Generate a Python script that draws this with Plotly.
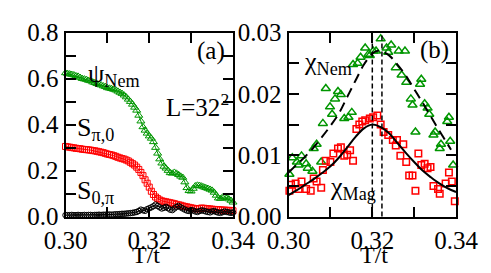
import numpy as np
import plotly.graph_objects as go

# ---------------- Panel (a) data ----------------
T_a = [round(0.300 + 0.0005 * i, 4) for i in range(81)]

psi_nem = [0.625, 0.622, 0.620, 0.618, 0.616, 0.612, 0.610, 0.605, 0.600, 0.598,
           0.596, 0.592, 0.590, 0.585, 0.582, 0.578, 0.575, 0.572, 0.568, 0.565, 0.560,
           0.558, 0.556, 0.553, 0.550, 0.545, 0.540, 0.535, 0.528, 0.520, 0.510,
           0.500, 0.488, 0.475, 0.462, 0.440, 0.415, 0.390, 0.375, 0.362, 0.350,
           0.340, 0.325, 0.300, 0.275, 0.250, 0.232, 0.218, 0.210, 0.200, 0.190,
           0.188, 0.192, 0.188, 0.182, 0.175, 0.170, 0.150, 0.125, 0.112, 0.110,
           0.122, 0.133, 0.136, 0.135, 0.132, 0.128, 0.125, 0.122, 0.118, 0.114,
           0.105, 0.092, 0.080, 0.078, 0.084, 0.087, 0.082, 0.076, 0.070, 0.062]

s_pi0 = [0.305, 0.303, 0.302, 0.300, 0.299, 0.297, 0.296, 0.295, 0.293, 0.292,
         0.291, 0.290, 0.289, 0.287, 0.286, 0.284, 0.282, 0.280, 0.278, 0.275, 0.272,
         0.270, 0.268, 0.265, 0.262, 0.258, 0.255, 0.252, 0.250, 0.246, 0.242,
         0.236, 0.230, 0.224, 0.215, 0.205, 0.192, 0.178, 0.160, 0.145, 0.128,
         0.110, 0.096, 0.085, 0.078, 0.072, 0.068, 0.066, 0.064, 0.062, 0.060,
         0.058, 0.056, 0.053, 0.051, 0.049, 0.046, 0.044, 0.042, 0.040, 0.038,
         0.036, 0.034, 0.033, 0.035, 0.037, 0.036, 0.035, 0.034, 0.033, 0.032,
         0.031, 0.030, 0.030, 0.029, 0.028, 0.028, 0.027, 0.027, 0.026, 0.025]

s_0pi = [0.006, 0.006, 0.006, 0.007, 0.006, 0.006, 0.007, 0.006, 0.006, 0.007,
         0.006, 0.007, 0.007, 0.006, 0.007, 0.007, 0.008, 0.007, 0.008, 0.008, 0.008,
         0.009, 0.008, 0.009, 0.010, 0.010, 0.011, 0.012, 0.012, 0.013, 0.014,
         0.015, 0.016, 0.018, 0.020, 0.024, 0.030, 0.027, 0.025, 0.032, 0.036,
         0.040, 0.045, 0.052, 0.046, 0.040, 0.035, 0.038, 0.042, 0.036, 0.030,
         0.028, 0.035, 0.042, 0.046, 0.040, 0.035, 0.030, 0.026, 0.024, 0.028,
         0.026, 0.022, 0.020, 0.024, 0.027, 0.025, 0.022, 0.020, 0.018, 0.022,
         0.024, 0.020, 0.017, 0.016, 0.019, 0.022, 0.020, 0.018, 0.016, 0.018]

# ---------------- Panel (b) data ----------------
T_nem = [0.3002, 0.3009, 0.3020, 0.3024, 0.3031, 0.3042, 0.3046, 0.3057, 0.3060, 0.3067,
         0.3078, 0.3082, 0.3089, 0.3099, 0.3104, 0.3111, 0.3118, 0.3125, 0.3133, 0.3143,
         0.3151, 0.3154, 0.3165, 0.3172, 0.3183, 0.3191, 0.3194, 0.3202, 0.3209, 0.3220,
         0.3234, 0.3238, 0.3245, 0.3256, 0.3263, 0.3270, 0.3278, 0.3281, 0.3292, 0.3296,
         0.3303, 0.3314, 0.3317, 0.3325, 0.3332, 0.3336, 0.3346, 0.3350, 0.3361, 0.3364,
         0.3379, 0.3383, 0.3386, 0.3393]
chi_nem = [0.0069, 0.0096, 0.0089, 0.0084, 0.0099, 0.0086, 0.0079, 0.0074, 0.0111, 0.0118,
           0.0089, 0.0152, 0.0209, 0.0179, 0.0167, 0.0192, 0.0204, 0.0199, 0.0160, 0.0162,
           0.0170, 0.0248, 0.0250, 0.0260, 0.0275, 0.0265, 0.0263, 0.0270, 0.0270, 0.0290,
           0.0275, 0.0268, 0.0280, 0.0243, 0.0270, 0.0231, 0.0270, 0.0219, 0.0192, 0.0182,
           0.0138, 0.0216, 0.0224, 0.0184, 0.0177, 0.0167, 0.0133, 0.0138, 0.0111, 0.0118,
           0.0155, 0.0162, 0.0123, 0.0084]

T_mag = [0.3002, 0.3006, 0.3017, 0.3024, 0.3031, 0.3042, 0.3053, 0.3060, 0.3067, 0.3078,
         0.3082, 0.3089, 0.3100, 0.3107, 0.3118, 0.3125, 0.3133, 0.3140, 0.3147, 0.3154,
         0.3162, 0.3169, 0.3176, 0.3183, 0.3194, 0.3202, 0.3212, 0.3220, 0.3227, 0.3238,
         0.3249, 0.3256, 0.3259, 0.3267, 0.3274, 0.3281, 0.3288, 0.3296, 0.3303, 0.3310,
         0.3317, 0.3325, 0.3332, 0.3339, 0.3346, 0.3357, 0.3361, 0.3375, 0.3383, 0.3390,
         0.3397]
chi_mag = [0.0042, 0.0052, 0.0054, 0.0045, 0.0057, 0.0045, 0.0042, 0.0062, 0.0057, 0.0047,
           0.0076, 0.0091, 0.0089, 0.0103, 0.0111, 0.0113, 0.0099, 0.0101, 0.0108, 0.0091,
           0.0143, 0.0150, 0.0155, 0.0157, 0.0160, 0.0162, 0.0165, 0.0150, 0.0138, 0.0133,
           0.0125, 0.0116, 0.0125, 0.0099, 0.0118, 0.0089, 0.0067, 0.0067, 0.0042, 0.0103,
           0.0084, 0.0086, 0.0079, 0.0081, 0.0050, 0.0045, 0.0037, 0.0054, 0.0072, 0.0057,
           0.0025]

# fit curves
T_fit_mag = [0.300, 0.302, 0.304, 0.306, 0.308, 0.310, 0.312, 0.314, 0.316, 0.318, 0.320,
             0.322, 0.324, 0.326, 0.328, 0.330, 0.332, 0.334, 0.336, 0.338, 0.340]
fit_mag = [0.0035, 0.0043, 0.0052, 0.0061, 0.0071, 0.0082, 0.0096, 0.0113, 0.0130, 0.0144, 0.0150,
           0.0146, 0.0136, 0.0120, 0.0104, 0.0089, 0.0075, 0.0064, 0.0054, 0.0046, 0.0040]

T_fit_nem = [0.300, 0.302, 0.304, 0.306, 0.308, 0.310, 0.312, 0.314, 0.316, 0.318, 0.320,
             0.321, 0.322, 0.324, 0.326, 0.328, 0.330, 0.332, 0.334, 0.336, 0.338, 0.3388]
fit_nem = [0.0072, 0.0085, 0.0098, 0.0113, 0.0130, 0.0148, 0.0168, 0.0195, 0.0222, 0.0248, 0.0266,
           0.0270, 0.0270, 0.0263, 0.0248, 0.0230, 0.0208, 0.0186, 0.0163, 0.0140, 0.0118, 0.0109]

Tc_lines = [0.3200, 0.3223]

xticks = [0.30, 0.31, 0.32, 0.33, 0.34]
xticktext = ["0.30", "", "0.32", "", "0.34"]
yticks_a = [0.0, 0.1, 0.2, 0.3, 0.4, 0.5, 0.6, 0.7, 0.8]
yticktext_a = ["0.0", "", "0.2", "", "0.4", "", "0.6", "", "0.8"]
yticks_b = [0.0, 0.005, 0.01, 0.015, 0.02, 0.025, 0.03]
yticktext_b = ["0.00", "", "0.01", "", "0.02", "", "0.03"]

GREEN = "rgb(0,150,0)"
RED = "rgb(255,0,0)"
FONT = "Liberation Serif"

W, H = 491, 273

fig = go.Figure()

# Panel (a)
fig.add_trace(go.Scatter(x=T_a, y=psi_nem, xaxis="x", yaxis="y", mode="lines+markers",
                         line=dict(color=GREEN, width=1),
                         marker=dict(symbol="triangle-up-open", size=7, color=GREEN,
                                     line=dict(width=1, color=GREEN)),
                         cliponaxis=False, showlegend=False))
fig.add_trace(go.Scatter(x=T_a, y=s_pi0, xaxis="x", yaxis="y", mode="lines+markers",
                         line=dict(color=RED, width=1),
                         marker=dict(symbol="square-open", size=6, color=RED,
                                     line=dict(width=1, color=RED)),
                         cliponaxis=False, showlegend=False))
fig.add_trace(go.Scatter(x=T_a, y=s_0pi, xaxis="x", yaxis="y", mode="lines+markers",
                         line=dict(color="black", width=1),
                         marker=dict(symbol="circle-open", size=5.5, color="black",
                                     line=dict(width=1, color="black")),
                         cliponaxis=False, showlegend=False))

# Panel (b)
fig.add_trace(go.Scatter(x=T_nem, y=chi_nem, xaxis="x2", yaxis="y2", mode="markers",
                         marker=dict(symbol="triangle-up-open", size=8, color=GREEN,
                                     line=dict(width=1.5, color=GREEN)),
                         cliponaxis=False, showlegend=False))
fig.add_trace(go.Scatter(x=T_mag, y=chi_mag, xaxis="x2", yaxis="y2", mode="markers",
                         marker=dict(symbol="square-open", size=6.5, color=RED,
                                     line=dict(width=1.5, color=RED)),
                         cliponaxis=False, showlegend=False))
fig.add_trace(go.Scatter(x=T_fit_nem, y=fit_nem, xaxis="x2", yaxis="y2", mode="lines",
                         line=dict(color="black", width=2, dash="10px,6px", shape="spline"),
                         showlegend=False))
fig.add_trace(go.Scatter(x=T_fit_mag, y=fit_mag, xaxis="x2", yaxis="y2", mode="lines",
                         line=dict(color="black", width=2, shape="spline"),
                         showlegend=False))

for tc in Tc_lines:
    fig.add_shape(type="line", xref="x2", yref="y2 domain", x0=tc, x1=tc, y0=0, y1=1,
                  line=dict(color="black", width=1.5, dash="5px,3px"))

dom_y = [56 / H, 260 / H]
axis_common = dict(showgrid=False, zeroline=False, showline=True, linecolor="black",
                   linewidth=2, mirror="ticks", ticks="inside", ticklen=10, tickwidth=1.5,
                   tickcolor="black", ticklabeloverflow="allow",
                   tickfont=dict(family=FONT, size=25, color="black"))

fig.update_layout(
    width=W, height=H,
    margin=dict(l=0, r=0, t=0, b=0),
    paper_bgcolor="white", plot_bgcolor="white",
    font=dict(family=FONT, color="black"),
    xaxis=dict(domain=[39 / W, 223 / W], range=[0.30, 0.34], anchor="y",
               tickvals=xticks, ticktext=xticktext, **axis_common),
    yaxis=dict(domain=dom_y, range=[0, 0.8], anchor="x",
               tickvals=yticks_a, ticktext=yticktext_a, **axis_common),
    xaxis2=dict(domain=[284 / W, 468 / W], range=[0.30, 0.34], anchor="y2",
                tickvals=xticks, ticktext=xticktext, **axis_common),
    yaxis2=dict(domain=dom_y, range=[0, 0.03], anchor="x2",
                tickvals=yticks_b, ticktext=yticktext_b, **axis_common),
)

def ann(text, x, y, xref, yref, size=25, xanchor="left", yanchor="middle"):
    fig.add_annotation(text=text, x=x, y=y, xref=xref, yref=yref, showarrow=False,
                       xanchor=xanchor, yanchor=yanchor,
                       font=dict(family=FONT, size=size, color="black"))

ann("(a)", 0.3348, 0.72, "x", "y", size=25, xanchor="center")
ann("ψ<sub>Nem</sub>", 0.3048, 0.616, "x", "y", size=26)
ann("L=32<sup>2</sup>", 0.3235, 0.486, "x", "y", size=25)
ann("S<sub>π,0</sub>", 0.3022, 0.38, "x", "y", size=26)
ann("S<sub>0,π</sub>", 0.3022, 0.106, "x", "y", size=26)
ann("(b)", 0.3348, 0.0271, "x2", "y2", size=25, xanchor="center")
ann("χ<sub>Nem</sub>", 0.3033, 0.0250, "x2", "y2", size=26)
ann("χ<sub>Mag</sub>", 0.3094, 0.0047, "x2", "y2", size=26)
ann("T/t", 127 / W, (H - 260) / H, "paper", "paper", size=24, xanchor="center")
ann("T/t", 378 / W, (H - 260) / H, "paper", "paper", size=24, xanchor="center")

fig.write_html("out.html")
